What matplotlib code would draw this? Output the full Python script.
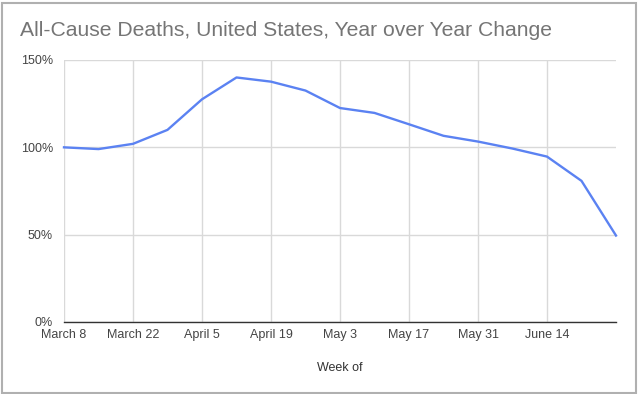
import matplotlib.pyplot as plt
from matplotlib.patches import Rectangle
from matplotlib.ticker import FuncFormatter

# weekly data, year over year change (%)
weeks = ["March 8", "March 15", "March 22", "March 29", "April 5", "April 12",
         "April 19", "April 26", "May 3", "May 10", "May 17", "May 24",
         "May 31", "June 7", "June 14", "June 21", "June 28"]
change = [100, 99, 102, 110, 127.5, 140, 137.6, 132.5, 122.5, 119.7,
          113.2, 106.6, 103.3, 99.3, 94.7, 80.8, 49.5]
y_ticks = [0, 50, 100, 150]

plt.rcParams['font.family'] = ['Liberation Sans', 'DejaVu Sans']

W, H = 639, 394
fig = plt.figure(figsize=(W / 100, H / 100), dpi=100)
ax = fig.add_axes([64 / W, 1 - 322 / H, (616 - 64) / W, (322 - 60) / H])

x = list(range(len(weeks)))
ax.plot(x, change, color='#5b82f2', lw=1.7, solid_joinstyle='round', clip_on=False, zorder=3)

ax.set_xlim(0, len(weeks) - 1)
ax.set_ylim(0, 150)
ax.set_xticks(x[::2][:-1])
ax.set_xticklabels(weeks[::2][:-1])
ax.set_yticks(y_ticks)
ax.yaxis.set_major_formatter(FuncFormatter(lambda v, p: "%d%%" % v))

ax.grid(True, color='#d9d9d9', lw=1)
ax.set_axisbelow(True)
for s in ['top', 'right', 'left']:
    ax.spines[s].set_visible(False)
ax.spines['bottom'].set_color('#333333')
ax.spines['bottom'].set_linewidth(1)
ax.spines['bottom'].set_zorder(4)
ax.tick_params(length=0, labelsize=9, colors='#444444')
ax.tick_params(axis='x', pad=5)
ax.tick_params(axis='y', pad=8)

ax.set_xlabel("Week of", fontsize=9, color='#333333', labelpad=15)

fig.text(20 / W, 1 - 31 / H, "All-Cause Deaths, United States, Year over Year Change",
         fontsize=15.2, color='#757575', va='center', ha='left')

# thin grey frame around the chart
fig.patches.append(Rectangle((1.5 / W, 1.5 / H), (W - 5) / W, (H - 4) / H,
                             transform=fig.transFigure, fill=False,
                             edgecolor='#b0b0b0', lw=1.5))

fig.savefig("out.png", dpi=100)
